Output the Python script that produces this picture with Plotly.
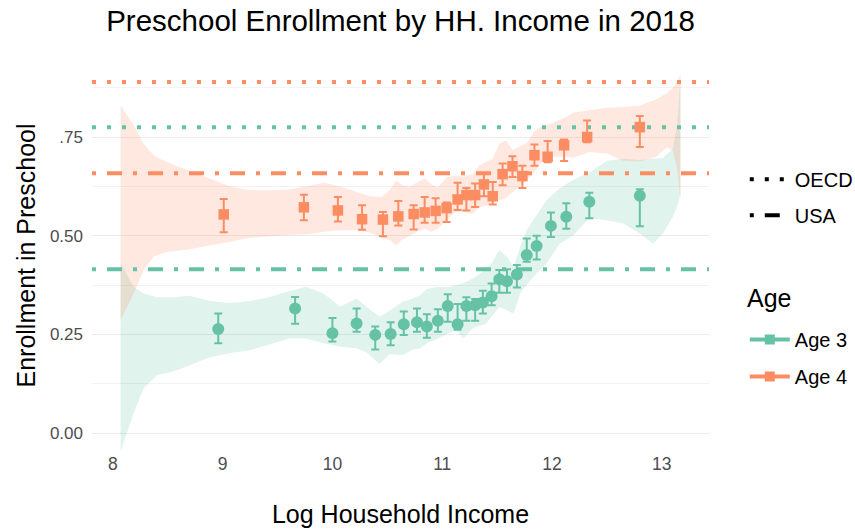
import plotly.graph_objects as go

# ---------------- data ----------------
age3_x = [8.96, 9.66, 10.00, 10.22, 10.39, 10.53, 10.65, 10.77, 10.86, 10.96, 11.05, 11.14, 11.22,
          11.30, 11.37, 11.45, 11.52, 11.59, 11.68, 11.77, 11.86, 11.99, 12.13, 12.34, 12.80]
age3_y = [0.264, 0.316, 0.253, 0.278, 0.249, 0.251, 0.276, 0.281, 0.270, 0.285, 0.322, 0.276, 0.322,
          0.324, 0.331, 0.347, 0.390, 0.385, 0.402, 0.451, 0.474, 0.525, 0.548, 0.586, 0.601]
age3_hi = [0.303, 0.345, 0.292, 0.316, 0.270, 0.281, 0.308, 0.316, 0.301, 0.314, 0.352, 0.327, 0.344,
           0.340, 0.361, 0.379, 0.413, 0.415, 0.426, 0.493, 0.500, 0.559, 0.582, 0.609, 0.618]
age3_lo = [0.228, 0.277, 0.232, 0.257, 0.212, 0.223, 0.249, 0.257, 0.242, 0.257, 0.282, 0.262, 0.285,
           0.285, 0.303, 0.324, 0.356, 0.356, 0.369, 0.434, 0.440, 0.497, 0.518, 0.544, 0.524]

age4_x = [9.01, 9.74, 10.05, 10.27, 10.46, 10.60, 10.74, 10.84, 10.94, 11.04, 11.14, 11.22, 11.30,
          11.38, 11.46, 11.55, 11.64, 11.73, 11.84, 11.96, 12.11, 12.32, 12.80]
age4_y = [0.554, 0.572, 0.564, 0.542, 0.541, 0.549, 0.555, 0.559, 0.563, 0.570, 0.592, 0.603, 0.603,
          0.630, 0.600, 0.656, 0.676, 0.651, 0.704, 0.700, 0.729, 0.750, 0.775]
age4_hi = [0.593, 0.604, 0.598, 0.577, 0.560, 0.588, 0.577, 0.598, 0.595, 0.584, 0.634, 0.621, 0.632,
           0.658, 0.636, 0.683, 0.701, 0.677, 0.731, 0.740, 0.744, 0.792, 0.803]
age4_lo = [0.509, 0.539, 0.536, 0.515, 0.499, 0.526, 0.516, 0.533, 0.533, 0.535, 0.565, 0.564, 0.573,
           0.600, 0.579, 0.628, 0.649, 0.621, 0.677, 0.686, 0.689, 0.737, 0.725]

# smoothed confidence bands
band3_x = [8.07, 8.19, 8.28, 8.40, 8.55, 8.70, 8.88, 9.07, 9.25, 9.43, 9.61, 9.76, 9.92, 10.07, 10.22,
           10.31, 10.43, 10.52, 10.64, 10.72, 10.80, 10.86, 10.95, 11.07, 11.13, 11.19, 11.28, 11.40,
           11.45, 11.52, 11.59, 11.65, 11.71, 11.77, 11.83, 11.95, 12.07, 12.19, 12.34, 12.50, 12.65,
           12.80, 12.92, 13.01, 13.10, 13.14, 13.17]
band3_hi = [0.430, 0.371, 0.354, 0.344, 0.344, 0.348, 0.335, 0.330, 0.335, 0.345, 0.360, 0.371, 0.354,
            0.320, 0.341, 0.320, 0.295, 0.310, 0.333, 0.340, 0.350, 0.365, 0.370, 0.370, 0.375, 0.380,
            0.392, 0.415, 0.430, 0.464, 0.447, 0.421, 0.472, 0.514, 0.540, 0.590, 0.620, 0.641, 0.660,
            0.690, 0.695, 0.692, 0.695, 0.697, 0.720, 0.780, 0.900]
band3_lo = [-0.047, 0.051, 0.114, 0.147, 0.156, 0.172, 0.192, 0.203, 0.210, 0.225, 0.240, 0.240, 0.228,
            0.219, 0.215, 0.205, 0.175, 0.200, 0.198, 0.211, 0.215, 0.228, 0.238, 0.255, 0.261, 0.240,
            0.266, 0.278, 0.295, 0.320, 0.310, 0.303, 0.354, 0.375, 0.396, 0.430, 0.480, 0.500, 0.544,
            0.539, 0.531, 0.506, 0.480, 0.506, 0.548, 0.575, 0.605]

band4_x = [8.07, 8.19, 8.28, 8.37, 8.49, 8.70, 8.88, 9.07, 9.25, 9.43, 9.61, 9.79, 9.92, 10.07, 10.22,
           10.34, 10.45, 10.52, 10.58, 10.64, 10.70, 10.77, 10.84, 10.90, 10.96, 11.04, 11.12, 11.20,
           11.28, 11.34, 11.40, 11.46, 11.52, 11.58, 11.64, 11.70, 11.77, 11.84, 11.92, 12.00, 12.10,
           12.20, 12.34, 12.50, 12.65, 12.80, 12.95, 13.05, 13.10, 13.14, 13.17]
band4_hi = [0.830, 0.780, 0.733, 0.704, 0.687, 0.665, 0.645, 0.625, 0.615, 0.615, 0.617, 0.628, 0.634,
            0.625, 0.611, 0.600, 0.598, 0.615, 0.640, 0.628, 0.624, 0.635, 0.645, 0.630, 0.622, 0.648,
            0.652, 0.650, 0.655, 0.679, 0.688, 0.695, 0.733, 0.742, 0.717, 0.725, 0.735, 0.765, 0.778,
            0.785, 0.797, 0.812, 0.818, 0.824, 0.826, 0.830, 0.845, 0.862, 0.875, 0.892, 0.910]
band4_lo = [0.287, 0.354, 0.413, 0.447, 0.459, 0.466, 0.475, 0.485, 0.495, 0.499, 0.502, 0.504, 0.510,
            0.514, 0.514, 0.508, 0.495, 0.489, 0.476, 0.490, 0.500, 0.510, 0.518, 0.510, 0.518, 0.540,
            0.560, 0.560, 0.556, 0.573, 0.575, 0.585, 0.590, 0.595, 0.611, 0.624, 0.640, 0.662, 0.690,
            0.700, 0.700, 0.698, 0.712, 0.708, 0.690, 0.688, 0.700, 0.725, 0.715, 0.670, 0.590]

# reference levels
oecd = {"Age 3": 0.775, "Age 4": 0.889}
usa = {"Age 3": 0.415, "Age 4": 0.658}

x_ticks = [8, 9, 10, 11, 12, 13]
y_ticks = [0.0, 0.25, 0.5, 0.75]
y_tick_labels = ["0.00", "0.25", "0.50", ".75"]

# ---------------- style ----------------
GREEN = "#66C2A5"
ORANGE = "#FC8D62"
FONT = "Liberation Sans, Arial, sans-serif"
X_RANGE = [7.81, 13.43]
Y_RANGE = [-0.045, 0.945]
DOT = "4px,11px"
DOTDASH = "4px,11px,15px,11px"

fig = go.Figure()

def band(xs, hi, lo, color):
    fig.add_trace(go.Scatter(x=xs + xs[::-1], y=hi + lo[::-1], fill="toself",
                             fillcolor=color, line=dict(width=0), mode="lines",
                             hoverinfo="skip", showlegend=False))

band(band3_x, band3_hi, band3_lo, "rgba(102,194,165,0.2)")
band(band4_x, band4_hi, band4_lo, "rgba(252,141,98,0.2)")

for key, col in (("Age 3", GREEN), ("Age 4", ORANGE)):
    fig.add_trace(go.Scatter(x=X_RANGE, y=[oecd[key]] * 2, mode="lines",
                             line=dict(color=col, width=4, dash=DOT), showlegend=False, hoverinfo="skip"))
    fig.add_trace(go.Scatter(x=X_RANGE, y=[usa[key]] * 2, mode="lines",
                             line=dict(color=col, width=4, dash=DOTDASH), showlegend=False, hoverinfo="skip"))

def points(xs, ys, hi, lo, color, symbol, size):
    fig.add_trace(go.Scatter(
        x=xs, y=ys, mode="markers",
        marker=dict(color=color, symbol=symbol, size=size),
        error_y=dict(type="data", symmetric=False,
                     array=[h - y for h, y in zip(hi, ys)],
                     arrayminus=[y - l for y, l in zip(ys, lo)],
                     color=color, thickness=2, width=4),
        showlegend=False))

points(age3_x, age3_y, age3_hi, age3_lo, GREEN, "circle", 12)
points(age4_x, age4_y, age4_hi, age4_lo, ORANGE, "square", 10.5)

# legend entries
fig.add_trace(go.Scatter(x=[None], y=[None], mode="lines", name="OECD",
                         line=dict(color="black", width=4, dash=DOT),
                         legend="legend", legendgroup="o"))
fig.add_trace(go.Scatter(x=[None], y=[None], mode="lines", name="USA",
                         line=dict(color="black", width=4, dash=DOTDASH),
                         legend="legend", legendgroup="u"))
fig.add_trace(go.Scatter(x=[None], y=[None], mode="lines+markers", name="Age 3",
                         line=dict(color=GREEN, width=4), marker=dict(color=GREEN, symbol="square", size=10),
                         legend="legend2", legendgroup="a3"))
fig.add_trace(go.Scatter(x=[None], y=[None], mode="lines+markers", name="Age 4",
                         line=dict(color=ORANGE, width=4), marker=dict(color=ORANGE, symbol="square", size=10),
                         legend="legend2", legendgroup="a4"))

fig.add_annotation(text="Age", xref="paper", yref="paper", x=1.058, y=0.391,
                   xanchor="left", yanchor="middle", showarrow=False,
                   font=dict(size=25, color="black", family=FONT))

fig.update_layout(
    width=855, height=529,
    margin=dict(l=92, r=146, t=60, b=78, autoexpand=False),
    paper_bgcolor="white", plot_bgcolor="white",
    font=dict(family=FONT, color="black"),
    title=dict(text="Preschool Enrollment by HH. Income in 2018", x=0.5, xref="paper",
               xanchor="center", y=0.961, yanchor="middle", font=dict(size=29.5, color="black")),
    xaxis=dict(range=X_RANGE, tickvals=x_ticks, ticktext=[str(v) for v in x_ticks],
               showgrid=False, zeroline=False, showline=False, ticks="", automargin=False,
               tickfont=dict(size=17.5, color="#4D4D4D"),
               title=dict(text="Log Household Income", font=dict(size=25, color="black"), standoff=32)),
    yaxis=dict(range=Y_RANGE, tickvals=y_ticks, ticktext=y_tick_labels,
               showgrid=True, gridcolor="#EBEBEB", gridwidth=1.3, zeroline=False, showline=False, ticks="",
               automargin=False, ticklabelstandoff=8,
               tickfont=dict(size=17, color="#4D4D4D"),
               minor=dict(tickvals=[0.125, 0.375, 0.625, 0.875], showgrid=True, gridcolor="#F2F2F2", gridwidth=1),
               title=dict(text="Enrollment in Preschool", font=dict(size=25, color="black"), standoff=7)),
    legend=dict(x=1.058, xanchor="left", y=0.745, yanchor="top", bgcolor="rgba(0,0,0,0)",
                font=dict(size=20, color="black"), tracegroupgap=7, itemwidth=40),
    legend2=dict(x=1.058, xanchor="left", y=0.335, yanchor="top", bgcolor="rgba(0,0,0,0)",
                 font=dict(size=20, color="black"), tracegroupgap=8, itemwidth=40),
)

fig.write_html("out.html", config={"displayModeBar": False},
               post_script="document.body.style.margin='0';")
